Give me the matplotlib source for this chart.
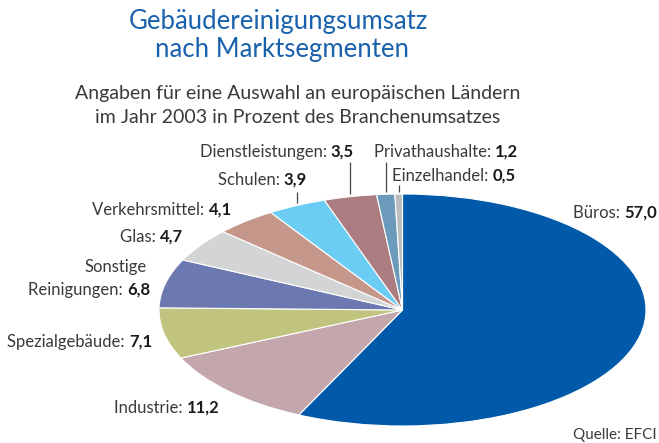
import numpy as np
import matplotlib.pyplot as plt

# segment data (percent of industry turnover)
segments = ['Büros', 'Industrie', 'Spezialgebäude', 'Reinigungen', 'Glas',
            'Verkehrsmittel', 'Schulen', 'Dienstleistungen',
            'Privathaushalte', 'Einzelhandel']
shares = [57.0, 11.2, 7.1, 6.8, 4.7, 4.1, 3.9, 3.5, 1.2, 0.5]
colors = ['#005aa9', '#c3a7ac', '#c1c47f', '#6c79b1', '#d3d4d6',
          '#c5978a', '#6ccdf4', '#ab7d80', '#6b9aba', '#bcbdc1']

# label anchor (right edge x, centre y) in pixels from top-left
label_right = [657, 220, 152, 150, 183, 232, 307, 354, 518, 516]
label_y = [213, 408, 342, 290, 237, 210, 180, 152, 152, 176]

# slices that get a leader line, and the top of each line (data units)
leader_idx = [6, 7, 8, 9]
leader_top = [1.017, 1.276, 1.276, 1.078]

W, H = 659, 443
FONT = 'Lato'
NAME_C = '#3a3a3a'
VAL_C = '#1a1a1a'
BLUE = '#1a61ad'


def px(x, y):
    return x / W, 1 - y / H


fig = plt.figure(figsize=(W / 100, H / 100), dpi=100)

# squashed pie: axes box matches the ellipse in the reference
ax = fig.add_axes([159 / W, (H - 426) / H, 487 / W, 232 / H])
ax.pie(shares, colors=colors, startangle=90, counterclock=False,
       wedgeprops=dict(edgecolor='white', linewidth=0.8))
ax.set_aspect('auto')
ax.set_xlim(-1, 1)
ax.set_ylim(-1, 1)
ax.axis('off')

# leader lines from slice mid angles
cum = np.cumsum(shares)
mid = 90 - 360 * (cum - np.array(shares) / 2) / 100.
for i, top in zip(leader_idx, leader_top):
    th = np.deg2rad(mid[i])
    x = np.cos(th)
    ax.plot([x, x], [np.sin(th) + 0.02, top], color='#444444', lw=0.9,
            clip_on=False, solid_capstyle='butt')

# titles
fig.text(*px(278, 22), 'Gebäudereinigungsumsatz', ha='center', va='center',
         fontsize=18.5, color=BLUE, family=FONT)
fig.text(*px(282, 50), 'nach Marktsegmenten', ha='center', va='center',
         fontsize=18.5, color=BLUE, family=FONT)
fig.text(*px(298, 93), 'Angaben für eine Auswahl an europäischen Ländern',
         ha='center', va='center', fontsize=14, color=NAME_C, family=FONT)
fig.text(*px(298, 117), 'im Jahr 2003 in Prozent des Branchenumsatzes',
         ha='center', va='center', fontsize=14, color=NAME_C, family=FONT)

# slice labels: regular name + bold value
for name, v, xr, yc in zip(segments, shares, label_right, label_y):
    val = fig.text(*px(xr, yc), '{:.1f}'.format(v).replace('.', ','),
                   ha='right', va='center', fontsize=12, color=VAL_C,
                   family=FONT, weight='bold')
    ax.annotate(name + ': ', xy=(0, 0.5), xycoords=val, ha='right',
                va='center', fontsize=12, color=NAME_C, family=FONT,
                annotation_clip=False)

fig.text(*px(147, 267), 'Sonstige', ha='right', va='center', fontsize=12,
         color=NAME_C, family=FONT)

fig.text(*px(657, 435), 'Quelle: EFCI', ha='right', va='center',
         fontsize=11, color=NAME_C, family=FONT)

fig.savefig('out.png', dpi=100)
